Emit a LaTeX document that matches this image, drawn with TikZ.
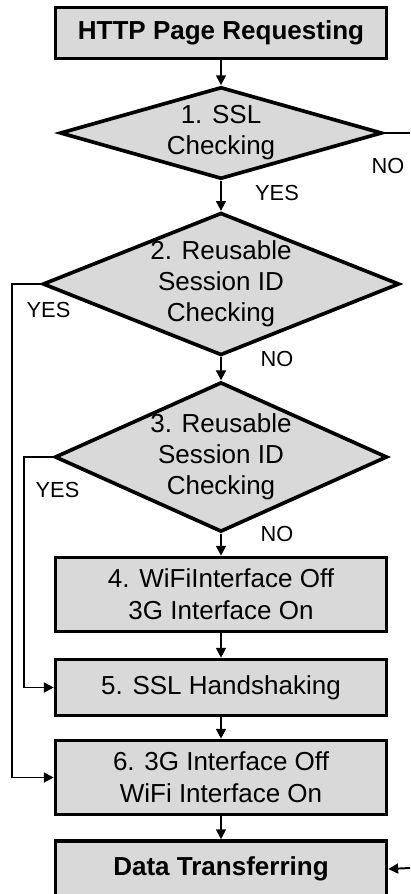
\documentclass[tikz,border=0pt]{standalone}
\usepackage{fontspec}
\setmainfont{Liberation Sans}
\usetikzlibrary{arrows.meta,shapes.geometric}
\definecolor{boxgray}{HTML}{D9D9D9}
\tikzset{
  stepbox/.style={draw=black,line width=2.6pt,fill=boxgray,minimum width=8.27cm,
    align=center,font=\fontsize{18.5}{23}\selectfont},
  checkbox/.style={diamond,draw=black,line width=2.6pt,fill=boxgray,inner sep=0pt,
    align=center,font=\fontsize{18.5}{22}\selectfont},
  flow/.style={-{Triangle[length=7pt,width=7pt]},line width=1.4pt},
  lbl/.style={font=\fontsize{15.5}{18}\selectfont}
}

\begin{document}
\begin{tikzpicture}[x=0.025cm,y=-0.025cm]
\useasboundingbox (0,0) rectangle (410,894);

% steps and checks
\node[stepbox,minimum height=1.275cm,font=\fontsize{18.5}{22}\selectfont\bfseries] (req) at (221,33) {HTTP Page Requesting};
\node[checkbox,aspect=3.5,minimum width=8.05cm,minimum height=2.3cm] (ssl) at (221,133) {1. SSL\\Checking};
\node[checkbox,aspect=2.5,minimum width=8.5cm,minimum height=3.4cm] (sidA) at (221,284) {2. Reusable\\Session ID\\Checking};
\node[checkbox,aspect=2.22,minimum width=8.1cm,minimum height=3.65cm] (sidB) at (221,457) {3. Reusable\\Session ID\\Checking};
\node[stepbox,minimum height=1.85cm] (wifiOff) at (221,594.5) {4. WiFiInterface Off\\3G Interface On};
\node[stepbox,minimum height=1.4cm] (hshake) at (221,687.5) {5. SSL Handshaking};
\node[stepbox,minimum height=1.85cm] (wifiOn) at (221,777.5) {6. 3G Interface Off\\WiFi Interface On};
\node[stepbox,minimum height=1.4cm,font=\fontsize{18.5}{22}\selectfont\bfseries] (data) at (221,869) {Data Transferring};

% labels
\node[lbl] (yesA) at (277,193) {YES};
\node[lbl] (noA) at (388,166) {NO};
\node[lbl] (yesB) at (48.5,310) {YES};
\node[lbl] (noB) at (277,359) {NO};
\node[lbl] (yesC) at (57.5,490) {YES};
\node[lbl] (noC) at (277,534) {NO};

% free ends
\coordinate (noEnd) at (410,133);
\coordinate (inData) at (410,868);
\coordinate (loopA) at (12,284);
\coordinate (loopB) at (24,457);

% connectors
\draw[flow] (req) -- (ssl);
\draw[flow] (ssl) -- (sidA);
\draw[flow] (sidA) -- (sidB);
\draw[flow] (sidB) -- (wifiOff);
\draw[flow] (wifiOff) -- (hshake);
\draw[flow] (hshake) -- (wifiOn);
\draw[flow] (wifiOn) -- (data);
\draw[line width=1.4pt] (ssl.east) -- (noEnd);
\draw[flow] (inData) -- (data.east);
\draw[flow] (sidA.west) -- (loopA) |- (wifiOn.west);
\draw[flow] (sidB.west) -- (loopB) |- (hshake.west);
\end{tikzpicture}
\end{document}
